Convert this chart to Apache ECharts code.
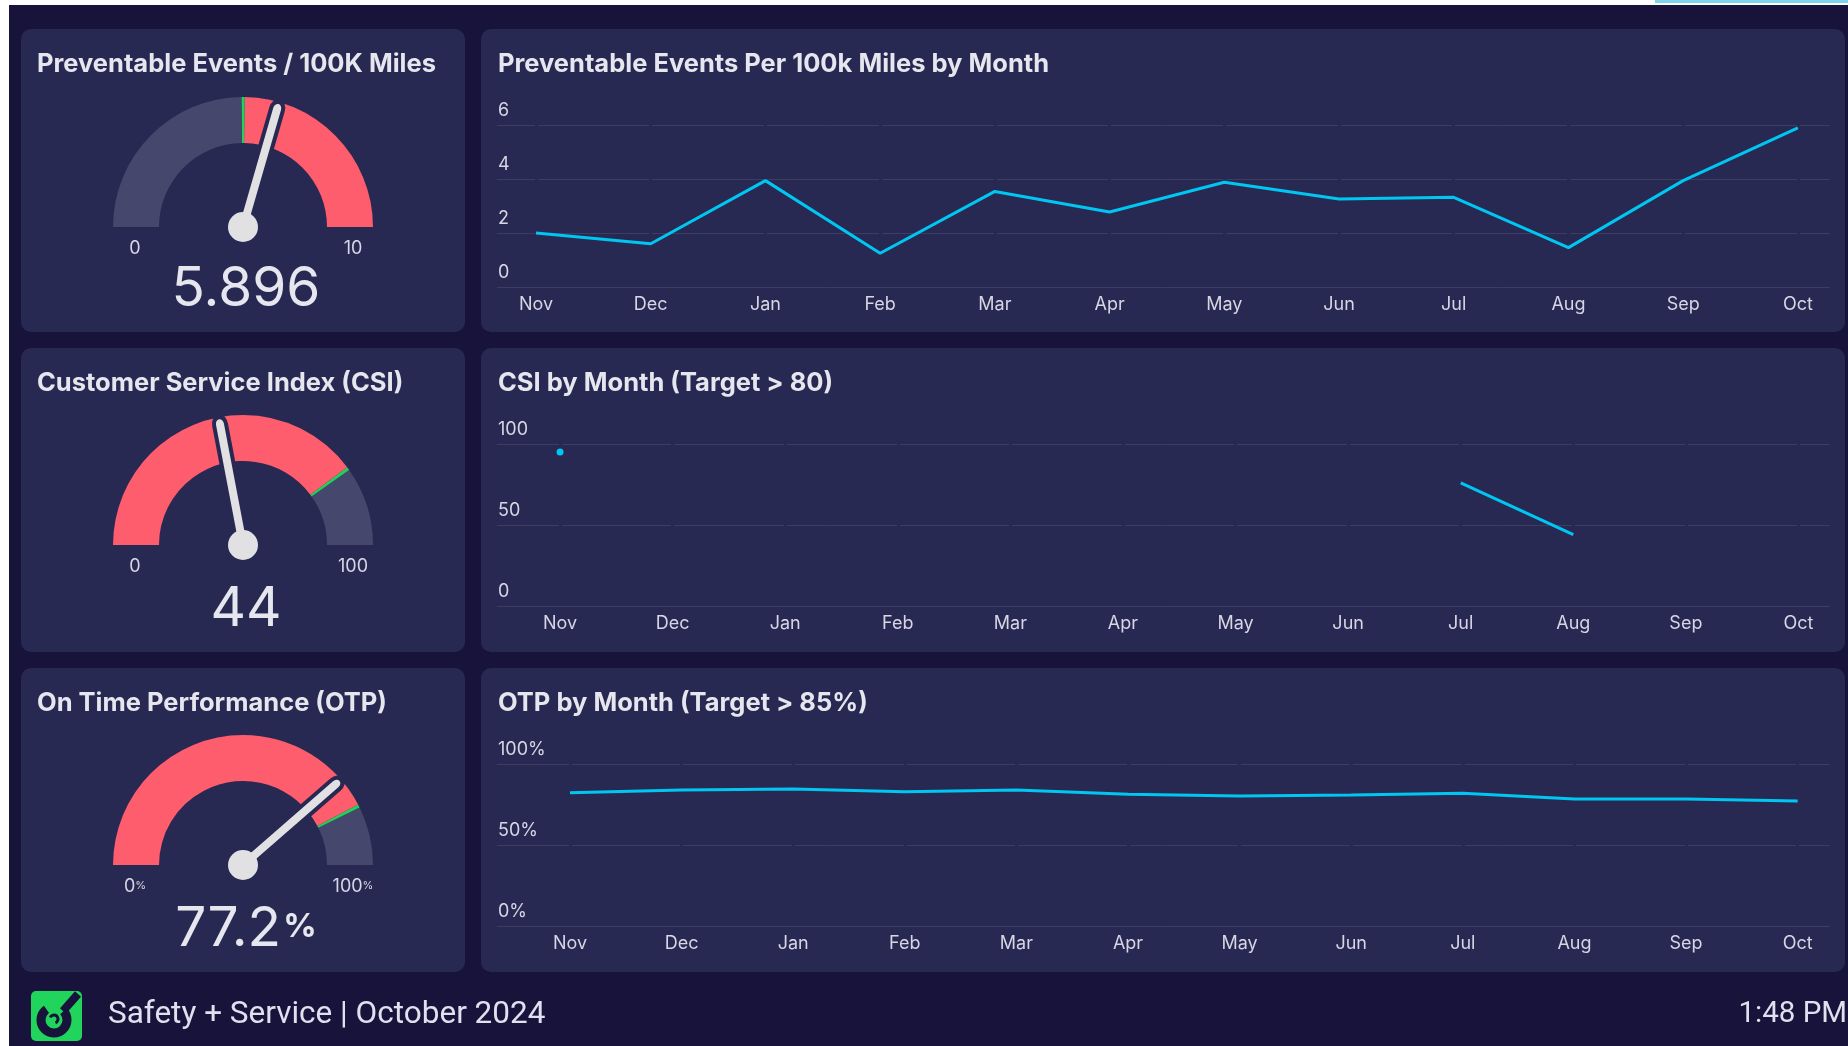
<!DOCTYPE html>
<html><head><meta charset="utf-8">
<script src="https://cdn.jsdelivr.net/npm/echarts@6/dist/echarts.min.js"></script>
<style>
html,body{margin:0;padding:0;background:#fff;width:1848px;height:1046px;overflow:hidden;}
#bg{position:absolute;left:9px;top:5px;right:0;bottom:0;background:#17133b;}
#topbar{position:absolute;left:1655px;top:0;width:193px;height:3px;background:#7fd4f0;}
#chart{position:absolute;left:0;top:0;width:1848px;height:1046px;}
</style></head><body>
<div id="bg"></div><div id="topbar"></div><div id="chart"></div>
<script>
// ---------- data ----------
const months = ['Nov','Dec','Jan','Feb','Mar','Apr','May','Jun','Jul','Aug','Sep','Oct'];
const preventableByMonth = [2.0, 1.6, 3.94, 1.25, 3.54, 2.78, 3.88, 3.26, 3.32, 1.46, 3.94, 5.896];
const csiByMonth = [95, null, null, null, null, null, null, null, 76, 44, null, null];
const otpByMonth = [82.3, 84.0, 84.6, 82.9, 84.0, 81.3, 80.2, 80.9, 81.9, 78.4, 78.4, 77.2];

const gaugeTitles = ['Preventable Events / 100K Miles', 'Customer Service Index (CSI)', 'On Time Performance (OTP)'];
const gaugeValues = [5.896, 44, 77.2];
const gaugeMin = [0, 0, 0];
const gaugeMax = [10, 100, 100];
const gaugeTargets = [5, 80, 85];
const gaugeLowerIsBetter = [true, false, false];
const gaugeUnits = ['', '', '%'];

const chartTitles = ['Preventable Events Per 100k Miles by Month', 'CSI by Month (Target > 80)', 'OTP by Month (Target > 85%)'];
const chartYMax = [6, 100, 100];
const chartYInterval = [2, 50, 50];
const chartYUnits = ['', '', '%'];

const footerText = 'Safety + Service | October 2024';
const clockText = '1:48 PM';

// ---------- style ----------
const FONT = 'Inter';
const PANEL = '#282952';
const BG = '#17133b';
const GRAY = '#45476c';
const RED = '#fd5d6c';
const GREEN = '#1fd35a';
const NEEDLE = '#e1e1e4';
const LINE = '#00c6f2';
const TITLE_C = '#e6e6ee';
const LABEL_C = '#d6d6e4';
const GRID_C = '#3b3d63';

const rowTop = [29, 348, 668];
const rowH = [303, 304, 304];
const gaugeCY = [227, 545, 865];
const gridTop = [125, 444, 764];
const xMin = [-0.34, -0.56, -0.654];
const xMax = [11.28, 11.28, 11.29];

const NEEDLE_PATH = 'path://M0,4A4,4,0,0,1,8,4L8,100L0,100Z';
const SHADOW_PATH = 'path://M0,8A8,8,0,0,1,16,8L16,100L0,100Z';

const graphic = [];
for (let i = 0; i < 3; i++) {
  graphic.push({type: 'rect', z: -10, shape: {x: 21, y: rowTop[i], width: 444, height: rowH[i], r: 10}, style: {fill: PANEL}});
  graphic.push({type: 'rect', z: -10, shape: {x: 481, y: rowTop[i], width: 1364, height: rowH[i], r: 10}, style: {fill: PANEL}});
}
// logo
graphic.push({
  type: 'group', x: 31, y: 991, children: [
    {type: 'rect', shape: {x: 0, y: 0, width: 51, height: 50, r: 5}, style: {fill: '#21d55c'}},
    {type: 'arc', shape: {cx: 23, cy: 29, r: 13, startAngle: -0.75, endAngle: 4.1, clockwise: true}, style: {stroke: BG, lineWidth: 9, fill: null}},
    {type: 'line', shape: {x1: 32, y1: 20, x2: 47, y2: 3}, style: {stroke: BG, lineWidth: 8}},
    {type: 'arc', shape: {cx: 23, cy: 28, r: 4, startAngle: 3.5, endAngle: 1.2, clockwise: true}, style: {stroke: BG, lineWidth: 3, fill: null}}
  ]
});

const titles = [];
for (let i = 0; i < 3; i++) {
  titles.push({text: gaugeTitles[i], left: 37, top: rowTop[i] + 22, padding: 0, textStyle: {color: TITLE_C, fontSize: 25.5, fontWeight: 'bold', fontFamily: FONT}});
  titles.push({text: chartTitles[i], left: 498, top: rowTop[i] + 22, padding: 0, textStyle: {color: TITLE_C, fontSize: 25.5, fontWeight: 'bold', fontFamily: FONT}});
}
titles.push({text: footerText, left: 108, top: 999, padding: 0, textStyle: {color: '#e0e0ee', fontSize: 31.5, fontWeight: 'normal', fontFamily: 'Roboto'}});
titles.push({text: clockText, right: 1, top: 1000, padding: 0, textStyle: {color: '#e0e0ee', fontSize: 29.5, fontWeight: 'normal', fontFamily: 'Roboto'}});

const grids = [], xAxes = [], yAxes = [], series = [];
const lineData = [preventableByMonth, csiByMonth, otpByMonth];
for (let i = 0; i < 3; i++) {
  grids.push({left: 497, width: 1333, top: gridTop[i], height: 162, containLabel: false, outerBoundsMode: 'none'});
  xAxes.push({
    type: 'value', gridIndex: i, min: xMin[i], max: xMax[i],
    axisLine: {show: false}, axisTick: {show: false}, splitLine: {show: false},
    axisLabel: {customValues: months.map((m, k) => k), formatter: v => months[Math.round(v)], margin: 9,
      color: LABEL_C, fontSize: 18, fontFamily: FONT}
  });
  const unit = chartYUnits[i];
  yAxes.push({
    type: 'value', gridIndex: i, min: 0, max: chartYMax[i], interval: chartYInterval[i],
    axisLine: {show: false}, axisTick: {show: false},
    splitLine: {show: true, lineStyle: {color: GRID_C, width: 1}},
    axisLabel: {inside: true, margin: 1, align: 'left', verticalAlign: 'bottom', padding: [0, 0, 5, 0],
      formatter: v => v + unit, color: LABEL_C, fontSize: 18, fontFamily: FONT}
  });
  const vals = lineData[i];
  series.push({
    type: 'line', xAxisIndex: i, yAxisIndex: i, symbol: 'none', showSymbol: true, z: 3,
    lineStyle: {color: LINE, width: 3}, itemStyle: {color: LINE},
    connectNulls: false, animation: false,
    markLine: {
      silent: true, symbol: 'none', z: 1, animation: false,
      label: {show: false}, emphasis: {disabled: true},
      lineStyle: {color: PANEL, width: 3, type: 'solid'},
      data: months.map((m, k) => ({xAxis: k}))
    },
    data: vals.map((v, k) => {
      if (v === null) return [k, '-'];
      const isolated = (k === 0 || vals[k - 1] === null) && (k === vals.length - 1 || vals[k + 1] === null);
      return isolated ? {value: [k, v], symbol: 'circle', symbolSize: 7} : [k, v];
    })
  });
}

for (let k = 0; k < 3; k++) {
  const min = gaugeMin[k], max = gaugeMax[k];
  const t = (gaugeTargets[k] - min) / (max - min), e = 0.004;
  const stops = gaugeLowerIsBetter[k]
    ? [[t - e, GRAY], [t + e, GREEN], [1, RED]]
    : [[t - e, RED], [t + e, GREEN], [1, GRAY]];
  const unit = gaugeUnits[k];
  const base = {
    type: 'gauge', center: [243, gaugeCY[k]], radius: 130, min, max, startAngle: 180, endAngle: 0,
    splitNumber: 1, axisTick: {show: false}, splitLine: {show: false}, axisLabel: {show: false},
    progress: {show: false}, animation: false
  };
  const endLabel = v => unit ? (v + '{p|' + unit + '}') : String(v);
  series.push(Object.assign({}, base, {
    axisLine: {show: true, lineStyle: {width: 46, color: stops}},
    pointer: {show: false}, anchor: {show: false}, detail: {show: false},
    title: {show: true, color: LABEL_C, fontSize: 18, fontFamily: FONT, rich: {p: {fontSize: 11, color: LABEL_C, fontFamily: FONT, padding: [0, 0, 2, 0]}}},
    data: [
      {value: min, name: endLabel(min), title: {offsetCenter: [-108, 22]}},
      {value: max, name: endLabel(max), title: {offsetCenter: [110, 22]}}
    ]
  }));
  series.push(Object.assign({}, base, {
    axisLine: {show: false, lineStyle: {width: 0}},
    pointer: {show: true, icon: SHADOW_PATH, width: 16, length: 133, itemStyle: {color: PANEL}},
    anchor: {show: false}, title: {show: false}, detail: {show: false},
    data: [{value: gaugeValues[k]}]
  }));
  series.push(Object.assign({}, base, {
    axisLine: {show: false, lineStyle: {width: 0}},
    pointer: {show: true, icon: NEEDLE_PATH, width: 8, length: 128, itemStyle: {color: NEEDLE}},
    anchor: {show: true, showAbove: true, size: 30, itemStyle: {color: NEEDLE}},
    title: {show: false},
    detail: {
      show: true, offsetCenter: [3, k === 0 ? 62 : 64], valueAnimation: false,
      formatter: v => '{v|' + v + '}' + (unit ? '{p|' + unit + '}' : ''),
      rich: {
        v: {fontSize: 55, color: TITLE_C, fontFamily: FONT, fontWeight: 'normal'},
        p: {fontSize: 33, color: TITLE_C, fontFamily: FONT, padding: [0, 0, 4, 2]}
      }
    },
    data: [{value: gaugeValues[k]}]
  }));
}

const chart = echarts.init(document.getElementById('chart'), null, {renderer: 'canvas'});
chart.setOption({
  animation: false,
  backgroundColor: 'transparent',
  graphic, title: titles, grid: grids, xAxis: xAxes, yAxis: yAxes, series
});
</script>
</body></html>
